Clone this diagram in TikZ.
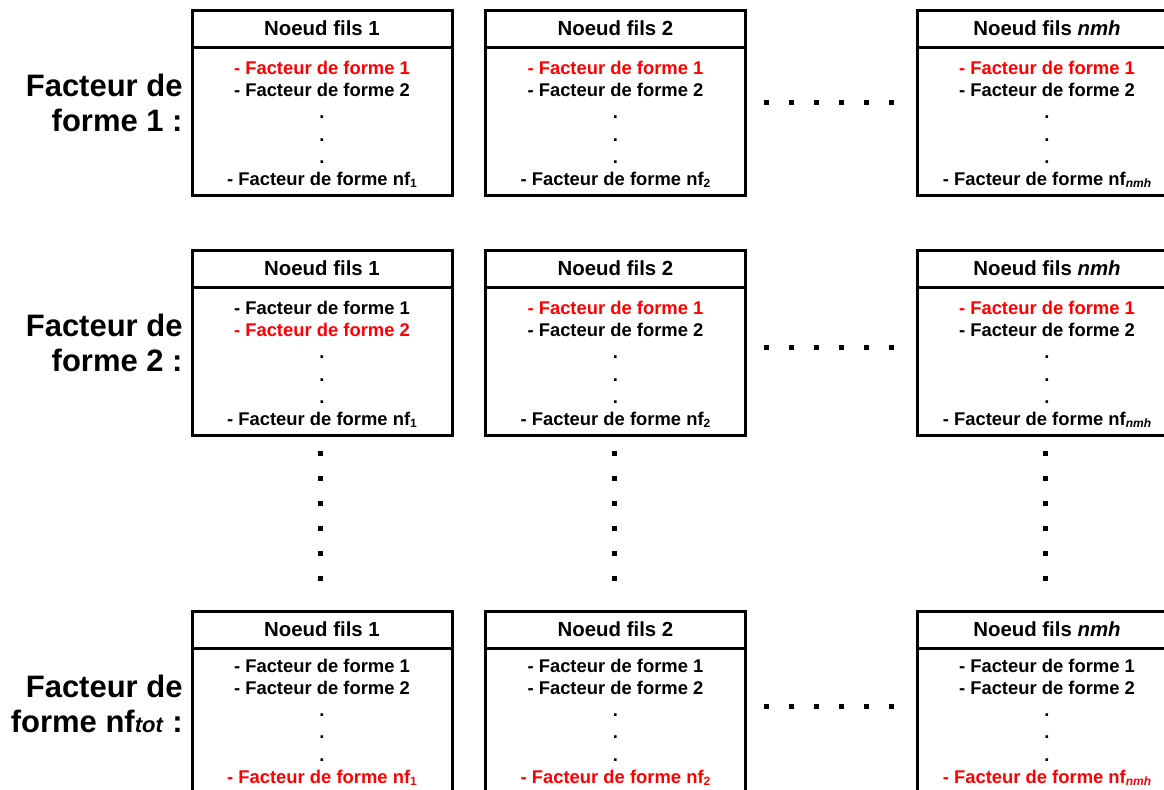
\documentclass[tikz,border=0pt]{standalone}
\usepackage{fontspec}
\setmainfont{Liberation Sans}
\usetikzlibrary{positioning}

\tikzset{
  titre/.style={draw, line width=1.5pt, outer sep=0pt, minimum width=130pt,
    minimum height=18.5pt, inner sep=0pt, font=\fontsize{10.2}{12}\selectfont\bfseries},
  corps/.style={draw, line width=1.5pt, outer sep=0pt, minimum width=130pt,
    minimum height=74pt, inner sep=0pt, align=center,
    font=\fontsize{9.2}{11.1}\selectfont\bfseries},
  facteur/.style={align=right, anchor=east, inner sep=0pt,
    font=\fontsize{15.5}{17.5}\selectfont\bfseries},
}
\newcommand{\rouge}[1]{\textcolor{red}{#1}}
\newcommand{\indice}[1]{\raisebox{-0.2ex}{\fontsize{6}{6}\selectfont #1}}
% premiere ligne un peu plus haute pour descendre le texte
\newcommand{\haut}{\rule{0pt}{10pt}}

\begin{document}
\begin{tikzpicture}[x=0.5pt,y=-0.5pt]
  \useasboundingbox (0,0) rectangle (1164,789);
  \clip (0,0) rectangle (1164,789);

  % facteur de forme 1
  \node[facteur] (f1) at (183,103) {Facteur de\\forme 1 :};
  \node[titre, anchor=north] (t11) at (322,10) {Noeud fils 1};
  \node[corps, below=0pt of t11] (c11) {\haut\rouge{- Facteur de forme 1}\\- Facteur de forme 2\\.\\.\\.\\- Facteur de forme nf\indice{1}};
  \node[titre, anchor=north] (t12) at (615.5,10) {Noeud fils 2};
  \node[corps, below=0pt of t12] (c12) {\haut\rouge{- Facteur de forme 1}\\- Facteur de forme 2\\.\\.\\.\\- Facteur de forme nf\indice{2}};
  \node[titre, anchor=north] (t13) at (1047,10) {Noeud fils \textit{nmh}};
  \node[corps, below=0pt of t13] (c13) {\haut\rouge{- Facteur de forme 1}\\- Facteur de forme 2\\.\\.\\.\\- Facteur de forme nf\indice{\itshape nmh}};

  % facteur de forme 2
  \node[facteur] (f2) at (183,343) {Facteur de\\forme 2 :};
  \node[titre, anchor=north] (t21) at (322,250) {Noeud fils 1};
  \node[corps, below=0pt of t21] (c21) {\haut- Facteur de forme 1\\\rouge{- Facteur de forme 2}\\.\\.\\.\\- Facteur de forme nf\indice{1}};
  \node[titre, anchor=north] (t22) at (615.5,250) {Noeud fils 2};
  \node[corps, below=0pt of t22] (c22) {\haut\rouge{- Facteur de forme 1}\\- Facteur de forme 2\\.\\.\\.\\- Facteur de forme nf\indice{2}};
  \node[titre, anchor=north] (t23) at (1047,250) {Noeud fils \textit{nmh}};
  \node[corps, below=0pt of t23] (c23) {\haut\rouge{- Facteur de forme 1}\\- Facteur de forme 2\\.\\.\\.\\- Facteur de forme nf\indice{\itshape nmh}};

  % facteur de forme nf_tot
  \node[facteur] (f3) at (183,704) {Facteur de\\forme nf\textit{\fontsize{11}{12}\selectfont tot} :};
  \node[titre, anchor=north] (t31) at (322,611) {Noeud fils 1};
  \node[corps, below=0pt of t31] (c31) {- Facteur de forme 1\\- Facteur de forme 2\\.\\.\\.\\\rouge{- Facteur de forme nf\indice{1}}};
  \node[titre, anchor=north] (t32) at (615.5,611) {Noeud fils 2};
  \node[corps, below=0pt of t32] (c32) {- Facteur de forme 1\\- Facteur de forme 2\\.\\.\\.\\\rouge{- Facteur de forme nf\indice{2}}};
  \node[titre, anchor=north] (t33) at (1047,611) {Noeud fils \textit{nmh}};
  \node[corps, below=0pt of t33] (c33) {- Facteur de forme 1\\- Facteur de forme 2\\.\\.\\.\\\rouge{- Facteur de forme nf\indice{\itshape nmh}}};

  % points de suspension
  \foreach \y in {102,347,706}
    \foreach \x in {766,791,...,891}
      \fill (\x-2.5,\y-2.5) rectangle +(5,5);
  \foreach \x in {320,614,1045}
    \foreach \y in {453,478,...,578}
      \fill (\x-2.5,\y-2.5) rectangle +(5,5);
\end{tikzpicture}
\end{document}
